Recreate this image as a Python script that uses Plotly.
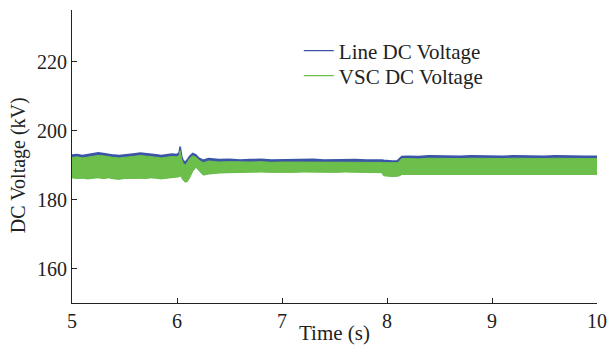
import plotly.graph_objects as go

# Time samples (s)
t = [5.00, 5.05, 5.10, 5.15, 5.20, 5.25, 5.30, 5.35, 5.40, 5.45, 5.50, 5.55, 5.60, 5.65, 5.70,
     5.75, 5.80, 5.85, 5.90, 5.95, 6.00, 6.02, 6.03, 6.045, 6.06, 6.08, 6.10, 6.12, 6.15, 6.18,
     6.21, 6.25, 6.30, 6.35, 6.40, 6.50, 6.60, 6.70, 6.80, 6.90, 7.00, 7.10, 7.20, 7.30, 7.40,
     7.50, 7.60, 7.70, 7.80, 7.90, 7.95, 7.97, 8.05, 8.10, 8.12, 8.14, 8.20, 8.30, 8.40, 8.50,
     8.60, 8.70, 8.80, 8.90, 9.00, 9.10, 9.20, 9.30, 9.40, 9.50, 9.60, 9.70, 9.80, 9.90, 10.00]

# Line DC voltage upper envelope (kV)
line_hi = [192.9, 193.1, 192.8, 193.0, 193.4, 193.6, 193.4, 193.1, 192.9, 192.8, 192.9, 193.1, 193.3, 193.5, 193.4,
           193.2, 193.0, 192.8, 193.0, 193.2, 193.1, 193.6, 195.4, 192.6, 191.2, 190.9, 191.6, 192.6, 193.4, 193.0,
           192.0, 191.4, 191.9, 191.7, 191.6, 191.7, 191.5, 191.6, 191.7, 191.5, 191.6, 191.5, 191.6, 191.7, 191.5,
           191.6, 191.5, 191.6, 191.5, 191.6, 191.5, 191.4, 191.2, 191.3, 191.8, 192.5, 192.6, 192.5, 192.7, 192.6,
           192.5, 192.6, 192.7, 192.6, 192.5, 192.6, 192.7, 192.6, 192.5, 192.6, 192.7, 192.6, 192.5, 192.6, 192.6]

# VSC DC voltage upper envelope (kV)
vsc_hi = [192.2, 192.4, 192.1, 192.3, 192.6, 192.8, 192.7, 192.4, 192.2, 192.1, 192.2, 192.4, 192.6, 192.8, 192.7,
          192.5, 192.3, 192.1, 192.3, 192.5, 192.4, 192.8, 194.2, 191.6, 190.4, 190.0, 190.9, 191.9, 192.7, 192.3,
          191.4, 190.7, 191.2, 191.0, 190.9, 191.0, 190.9, 190.9, 191.0, 190.8, 190.9, 190.9, 190.9, 191.0, 190.8,
          190.9, 190.8, 190.9, 190.8, 190.9, 190.8, 190.7, 190.6, 190.7, 191.2, 191.9, 191.9, 191.8, 192.0, 191.9,
          191.8, 191.9, 192.0, 191.9, 191.8, 191.9, 192.0, 191.9, 191.8, 191.9, 192.0, 191.9, 191.8, 191.9, 191.9]

# VSC DC voltage lower envelope (kV)
vsc_lo = [186.3, 186.1, 186.2, 186.0, 186.2, 186.3, 186.1, 186.3, 186.0, 185.9, 186.1, 186.2, 186.3, 186.2, 186.1,
          186.3, 186.2, 186.0, 186.2, 186.3, 186.4, 186.6, 187.0, 186.2, 185.6, 185.0, 185.3, 186.3, 188.2, 189.4,
          188.4, 187.1, 187.4, 187.6, 187.7, 187.8, 187.9, 187.8, 188.0, 187.9, 187.8, 187.9, 188.0, 187.9, 187.8,
          187.9, 188.0, 187.9, 187.8, 187.9, 187.8, 186.9, 186.7, 186.8, 186.9, 187.3, 187.3, 187.2, 187.4, 187.3,
          187.2, 187.3, 187.4, 187.3, 187.2, 187.3, 187.4, 187.3, 187.2, 187.3, 187.4, 187.3, 187.2, 187.3, 187.3]

x_ticks = [5, 6, 7, 8, 9, 10]
y_ticks = [160, 180, 200, 220]

BLUE = "#3b55a8"
GREEN = "#6cbf4a"
FONT = "Liberation Serif"
AXC = "#222222"

fig = go.Figure()
# Line DC voltage band
fig.add_trace(go.Scatter(x=t, y=vsc_lo, mode="lines", line=dict(width=0, color=BLUE),
                         showlegend=False, hoverinfo="skip"))
fig.add_trace(go.Scatter(x=t, y=line_hi, mode="lines", line=dict(width=1.5, color=BLUE),
                         fill="tonexty", fillcolor=BLUE, showlegend=False))
# VSC DC voltage band
fig.add_trace(go.Scatter(x=t, y=vsc_lo, mode="lines", line=dict(width=1, color=GREEN),
                         showlegend=False, hoverinfo="skip"))
fig.add_trace(go.Scatter(x=t, y=vsc_hi, mode="lines", line=dict(width=1, color=GREEN),
                         fill="tonexty", fillcolor=GREEN, showlegend=False))
# Legend entries
fig.add_trace(go.Scatter(x=[None], y=[None], mode="lines", name="Line DC Voltage",
                         line=dict(width=1.2, color=BLUE), legend="legend"))
fig.add_trace(go.Scatter(x=[None], y=[None], mode="lines", name="VSC DC Voltage",
                         line=dict(width=1.2, color=GREEN), legend="legend2"))

leg_common = dict(xanchor="left", yanchor="top", bgcolor="rgba(0,0,0,0)", borderwidth=0,
                  font=dict(family=FONT, size=21, color="#222222"), itemwidth=30)

fig.update_layout(
    width=608, height=345,
    margin=dict(l=72, r=11, t=10, b=42),
    paper_bgcolor="white", plot_bgcolor="white",
    font=dict(family=FONT, size=20, color="#222222"),
    showlegend=True,
    legend=dict(x=0.432, y=0.93, **leg_common),
    legend2=dict(x=0.432, y=0.845, **leg_common),
    xaxis=dict(range=[5, 10], tickvals=x_ticks, ticktext=[str(v) for v in x_ticks],
               showgrid=False, zeroline=False, showline=True, linecolor=AXC, linewidth=1,
               ticks="inside", ticklen=5, tickcolor=AXC, mirror=False, automargin=False,
               tickfont=dict(family=FONT, size=20),
               title=dict(text="Time (s)", font=dict(family=FONT, size=21), standoff=0)),
    yaxis=dict(range=[150, 235], tickvals=y_ticks, ticktext=[str(v) for v in y_ticks],
               showgrid=False, zeroline=False, showline=True, linecolor=AXC, linewidth=1,
               ticks="inside", ticklen=5, tickcolor=AXC, mirror=False, automargin=False,
               tickfont=dict(family=FONT, size=20)),
    annotations=[dict(text="DC Voltage (kV)", textangle=-90, xref="paper", yref="paper",
                      x=-0.103, y=0.47, xanchor="center", yanchor="middle", showarrow=False,
                      font=dict(family=FONT, size=20, color="#222222"))],
)

fig.write_html("out.html", config={"displayModeBar": False},
               post_script="document.body.style.margin='0';document.body.style.overflow='hidden';")
